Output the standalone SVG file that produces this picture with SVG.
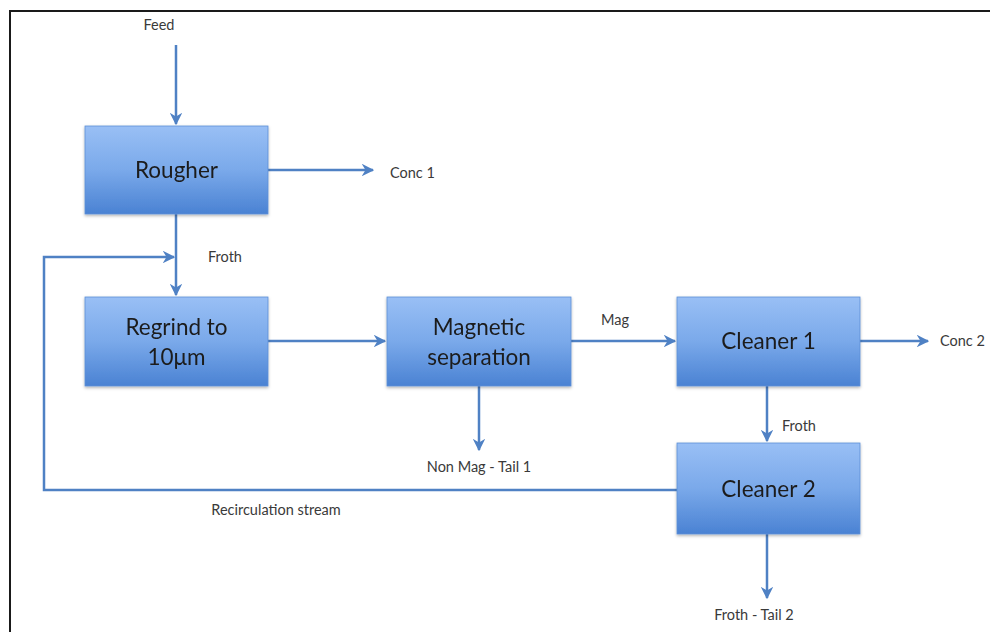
<svg xmlns="http://www.w3.org/2000/svg" width="990" height="632" viewBox="0 0 990 632">
<style>
.box{fill:url(#g);stroke:#5d8fd6;stroke-width:0.8}
.bt{font-family:Lato,"Noto Sans",sans-serif;font-size:22.5px;fill:#1c1c1c;text-anchor:middle}
.lb{font-family:Lato,"Noto Sans",sans-serif;font-size:14.5px;fill:#3a3a3a}
.c{fill:none;stroke:#4f81c4;stroke-width:2.5}
</style>
<defs>
<linearGradient id="g" x1="0" y1="0" x2="0" y2="1">
<stop offset="0" stop-color="#99bff5"/>
<stop offset="0.5" stop-color="#7aa9ea"/>
<stop offset="1" stop-color="#4a82d3"/>
</linearGradient>
<filter id="sh" x="-10%" y="-10%" width="120%" height="130%">
<feDropShadow dx="0" dy="1.5" stdDeviation="1.5" flood-color="#000" flood-opacity="0.3"/>
</filter>
<marker id="a" viewBox="0 0 10 10" refX="9" refY="5" markerWidth="5" markerHeight="5" orient="auto" markerUnits="strokeWidth">
<path d="M0,0 L10,5 L0,10 L3,5 Z" fill="#4f81c4"/>
</marker>
</defs>
<rect width="990" height="632" fill="#fff"/>
<path d="M10,632 V11 H990" fill="none" stroke="#1a1a1a" stroke-width="2"/>
<g id="connectors">
<path class="c" d="M176,45 V124" marker-end="url(#a)"/>
<path class="c" d="M268,170 H373" marker-end="url(#a)"/>
<path class="c" d="M176,214 V295" marker-end="url(#a)"/>
<path class="c" d="M677,490 H44 V257 H174" marker-end="url(#a)"/>
<path class="c" d="M268,341 H385" marker-end="url(#a)"/>
<path class="c" d="M571,341 H675" marker-end="url(#a)"/>
<path class="c" d="M479,386 V450" marker-end="url(#a)"/>
<path class="c" d="M860,341 H928" marker-end="url(#a)"/>
<path class="c" d="M767,386 V441" marker-end="url(#a)"/>
<path class="c" d="M767,534 V598" marker-end="url(#a)"/>
</g>
<g id="labels">
<text class="lb" x="159" y="30" text-anchor="middle">Feed</text>
<text class="lb" x="390" y="178">Conc 1</text>
<text class="lb" x="208" y="262">Froth</text>
<text class="lb" x="601" y="325">Mag</text>
<text class="lb" x="940" y="346">Conc 2</text>
<text class="lb" x="782" y="431">Froth</text>
<text class="lb" x="479" y="472" text-anchor="middle">Non Mag - Tail 1</text>
<text class="lb" x="276" y="515" text-anchor="middle">Recirculation stream</text>
<text class="lb" x="754" y="620" text-anchor="middle">Froth - Tail 2</text>
</g>
<g id="rougher" filter="url(#sh)"><rect class="box" x="85" y="126" width="183" height="88"/><text class="bt" x="176.5" y="178">Rougher</text></g>
<g id="regrind" filter="url(#sh)"><rect class="box" x="85" y="297" width="183" height="89"/><text class="bt" x="176.5" y="335">Regrind to</text><text class="bt" x="176.5" y="365">10μm</text></g>
<g id="magnetic" filter="url(#sh)"><rect class="box" x="387" y="297" width="184" height="89"/><text class="bt" x="479" y="335">Magnetic</text><text class="bt" x="479" y="365">separation</text></g>
<g id="cleaner1" filter="url(#sh)"><rect class="box" x="677" y="297" width="183" height="89"/><text class="bt" x="768.5" y="349">Cleaner 1</text></g>
<g id="cleaner2" filter="url(#sh)"><rect class="box" x="677" y="443" width="183" height="91"/><text class="bt" x="768.5" y="497">Cleaner 2</text></g>
</svg>
